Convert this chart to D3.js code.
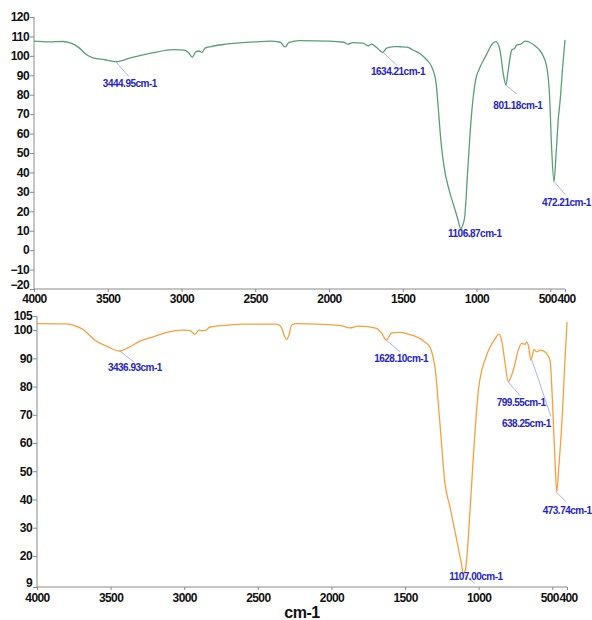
<!DOCTYPE html>
<html>
<head>
<meta charset="utf-8">
<script src="https://cdn.jsdelivr.net/npm/d3@7/dist/d3.min.js"></script>
<style>
body{margin:0;background:#fff;}
svg{display:block;font-family:"Liberation Sans",Arial,sans-serif;}
.axis path,.axis line{stroke:#8a8a8a;}
.axis text{fill:#111;font-size:12px;font-weight:bold;letter-spacing:-0.6px;}
</style>
</head>
<body>
<svg id="chart" width="592" height="620"></svg>
<script>
// top spectrum (wavenumber, %T)
var topWn = [4000,3900,3800,3750,3700,3650,3600,3520,3445,3350,3200,3050,2980,2950,2927,2905,2880,2861,2840,2800,2700,2500,2400,2330,2298,2270,2200,2000,1900,1871,1840,1770,1735,1710,1680,1634,1610,1560,1519,1470,1431,1380,1338,1304,1274,1258,1242,1220,1186,1152,1125,1107,1095,1080,1058,1035,1006,979,934,889,868,841,819,801,785,761,740,727,700,670,640,600,558,524,505,490,475,460,445,433,415,400];
var topT  = [107.6,107.2,107.4,106.5,104.5,101,99,98,97,98.8,101.5,103.2,103,101.5,99.2,102,102.5,101.8,104,104.8,106,107.2,107.6,107,104.6,107,107.8,107.6,107,106,106.8,106.5,105.2,106,104.5,101.8,104,104.8,104.7,104.5,103,101,98,94.4,86,72,56.7,43,31,22.4,15.5,11,12.5,17.2,43,68.7,87.6,93.6,100.4,106.5,107.3,103,91,85,92.7,103,104,105.6,106,107.6,107,105,101.4,94.4,80,51.5,35.2,50,68,77,95,108.2];

// bottom spectrum
var botWn = [4000,3800,3740,3686,3640,3606,3527,3437,3380,3300,3200,3119,3006,2960,2927,2900,2880,2859,2825,2700,2600,2372,2340,2320,2304,2290,2270,2236,2057,1930,1874,1820,1750,1693,1660,1628,1590,1534,1480,1421,1370,1331,1310,1297,1263,1229,1195,1149,1120,1104,1090,1080,1060,1036,1002,979,950,923,890,862,844,820,799,780,765,731,708,685,674,663,645,624,606,583,549,530,515,497,480,470,455,435,415,400];
var botT  = [102.3,102.2,101.5,100.2,98,96.4,94.3,92.6,93.8,96.1,97.8,99.2,100,99.8,98.5,100,99.8,99.8,101.1,101.8,102.1,102.1,101,98,96.7,98,101.8,102.3,102,101.5,100.8,101.4,101.2,100.6,99,96.5,99,99.2,98.6,97.6,96,94,90.5,86.9,66.9,45.7,37.4,25.6,18,13.8,15,19.7,35,55.1,78.7,85.8,90.5,94,96.8,98.6,96.4,88,81.7,83.5,85.8,92.9,95.3,95,95.8,94.7,89.3,93.1,92.3,92.9,92.3,91,89.3,72.8,52,42.7,52,66.9,88,102.9];

// labelled peaks
var topPeakWn = [3444.95,1634.21,1106.87,801.18,472.21];
var topPeakT  = [97,101.8,11,85,35.2];
var botPeakWn = [3436.93,1628.10,799.55,638.25,473.74,1107.00];
var botPeakT  = [92.6,96.5,81.7,89.3,42.7,13.8];

var xTicks = [4000,3500,3000,2500,2000,1500,1000,500,400];
var topYTicks = [-20,-10,0,10,20,30,40,50,60,70,80,90,100,110,120];
var botYTicks = [9,20,30,40,50,60,70,80,90,100,105];

// leader line end (dx,dy) and label baseline offset / anchor
var topLabelPos = [[13,15,10,"middle"],[14,13,10,"middle"],[13,10,-2,"middle"],[11,9,15,"middle"],[11,13,11,"middle"]];
var botLabelPos = [[14,11,9,"middle"],[14,12,10,"middle"],[12,14,10,"middle"],[19,56,11,"end"],[10,10,12,"middle"],[12,10,-3,"middle"]];

var svg = d3.select("#chart");

function panel(wn, t, peaksWn, peaksT, labelPos, xRange, yDomain, yRange, yTicks, color, pad){
	var x = d3.scaleLinear().domain([4000,400]).range(xRange);
	var y = d3.scaleLinear().domain(yDomain).range(yRange);

	var xAxisG = svg.append("g")
	.attr("class","axis")
	.attr("transform","translate(0,"+yRange[0]+")")
	.call(d3.axisBottom(x).tickValues(xTicks).tickSize(3).tickPadding(pad).tickFormat(d3.format("d")))
	.call(function(g){g.select(".domain").attr("d","M"+xRange[0]+",0H"+xRange[1]);});

	//500 and 400 sit too close, nudge them apart like the original
	xAxisG.selectAll(".tick text")
	.attr("dx",function(d){return d==500 ? -3 : (d==400 ? 1 : 0);});

	svg.append("g")
	.attr("class","axis")
	.attr("transform","translate("+xRange[0]+",0)")
	.call(d3.axisLeft(y).tickValues(yTicks).tickSize(4).tickPadding(1).tickFormat(d3.format("d")))
	.call(function(g){g.select(".domain").attr("d","M0,"+yRange[1]+"V"+yRange[0]);})
	.call(function(g){g.selectAll(".tick text").attr("dy",function(d,i){return i==0 ? "-0.05em" : "0.32em";});});

	var pts = wn.map(function(d,i){return [d,t[i]];});
	var line = d3.line()
	.x(function(d){return x(d[0]);})
	.y(function(d){return y(d[1]);})
	.curve(d3.curveMonotoneX);

	svg.append("path")
	.datum(pts)
	.attr("d",line)
	.attr("fill","none")
	.attr("stroke",color)
	.attr("stroke-width",1.3);

	var g = svg.append("g");
	peaksWn.forEach(function(p,i){
		var px = x(p), py = y(peaksT[i]);
		var lp = labelPos[i];
		g.append("line")
		.attr("x1",px).attr("y1",py)
		.attr("x2",px+lp[0]).attr("y2",py+lp[1])
		.attr("stroke","#9a9aff")
		.attr("stroke-width",0.8);
		g.append("text")
		.attr("x",px+lp[0]+(lp[3]=="end"?0:1))
		.attr("y",py+lp[1]+lp[2])
		.attr("text-anchor",lp[3])
		.attr("fill","#2424c8")
		.style("font-size","10px")
		.style("font-weight","bold")
		.style("letter-spacing","-0.5px")
		.text(d3.format(".2f")(p)+"cm-1");
	});
}

panel(topWn, topT, topPeakWn, topPeakT, topLabelPos, [34,565], [-20,120], [289,17], topYTicks, "#56a077", 2);
panel(botWn, botT, botPeakWn, botPeakT, botLabelPos, [37,567], [9,105], [587,316], botYTicks, "#f9a03c", 3);

svg.append("text")
.attr("x",302)
.attr("y",618)
.attr("text-anchor","middle")
.attr("fill","#111")
.style("font-size","16px")
.style("font-weight","bold")
.style("letter-spacing","-0.5px")
.text("cm-1");
</script>
</body>
</html>
